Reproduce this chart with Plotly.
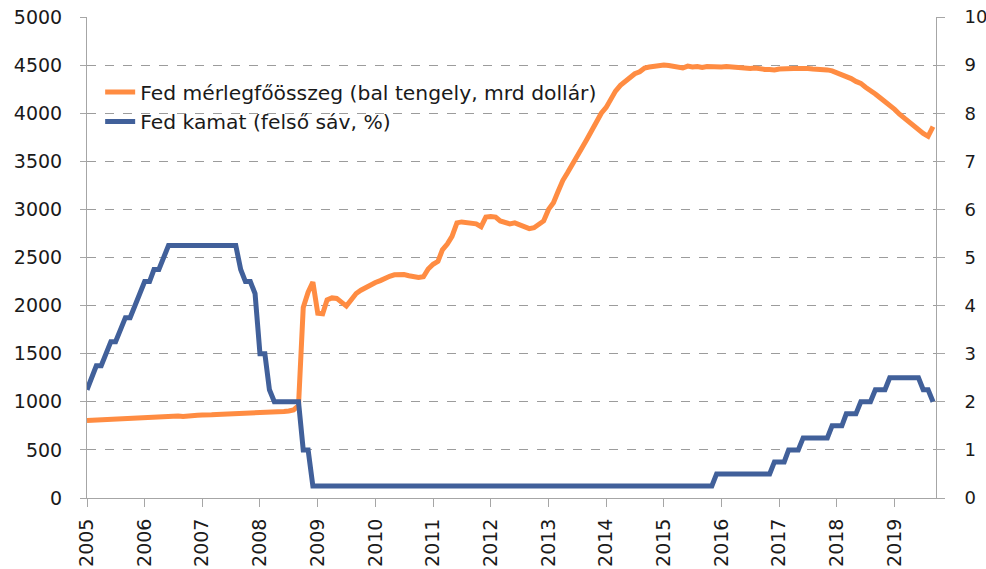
import pandas as pd
import plotly.graph_objects as go

# Monthly observations, Jan 2005 - Sep 2019
start_month = "2005-01-01"
n_months = 177
months = pd.date_range(start_month, periods=n_months, freq="MS")

# Fed total assets (billion USD, left axis)
balance_sheet = [
    # 2005
    805, 808, 812, 815, 818, 815, 822, 825, 828, 830, 835, 832,
    # 2006
    838, 840, 836, 845, 848, 845, 850, 852, 848, 855, 858, 860,
    # 2007
    862, 858, 865, 868, 870, 866, 872, 875, 870, 878, 880, 885,
    # 2008
    888, 885, 892, 890, 895, 900, 905, 915, 960, 1980, 2140, 2245,
    # 2009
    1920, 1915, 2060, 2080, 2075, 2030, 1995, 2060, 2125, 2160, 2190, 2215,
    # 2010
    2240, 2260, 2285, 2305, 2320, 2325, 2322, 2310, 2295, 2292, 2300, 2380,
    # 2011
    2430, 2460, 2580, 2640, 2720, 2860, 2870, 2860, 2860, 2850, 2820, 2920,
    # 2012
    2925, 2920, 2880, 2870, 2850, 2860, 2840, 2820, 2800, 2810, 2840, 2880,
    # 2013
    3000, 3070, 3180, 3300, 3380, 3460, 3560, 3640, 3730, 3820, 3900, 4000,
    # 2014
    4060, 4160, 4230, 4290, 4330, 4370, 4410, 4430, 4470, 4480, 4490, 4500,
    # 2015
    4500, 4495, 4485, 4480, 4470, 4490, 4480, 4485, 4475, 4485, 4480, 4485,
    # 2016
    4480, 4485, 4480, 4475, 4470, 4470, 4465, 4470, 4460, 4455, 4455, 4450,
    # 2017
    4460, 4465, 4470, 4465, 4465, 4470, 4465, 4460, 4460, 4455, 4450, 4440,
    # 2018
    4420, 4400, 4385, 4360, 4330, 4310, 4270, 4240, 4200, 4160, 4120, 4090,
    # 2019
    4040, 3990, 3950, 3910, 3870, 3830, 3790, 3760, 3860,
]

# Fed funds target, upper bound (%, right axis)
fed_rate = [
    # 2005
    2.25, 2.5, 2.75, 2.75, 3.0, 3.25, 3.25, 3.5, 3.75, 3.75, 4.0, 4.25,
    # 2006
    4.5, 4.5, 4.75, 4.75, 5.0, 5.25, 5.25, 5.25, 5.25, 5.25, 5.25, 5.25,
    # 2007
    5.25, 5.25, 5.25, 5.25, 5.25, 5.25, 5.25, 5.25, 4.75, 4.5, 4.5, 4.25,
    # 2008
    3.0, 3.0, 2.25, 2.0, 2.0, 2.0, 2.0, 2.0, 2.0, 1.0, 1.0, 0.25,
    # 2009
    0.25, 0.25, 0.25, 0.25, 0.25, 0.25, 0.25, 0.25, 0.25, 0.25, 0.25, 0.25,
    # 2010
    0.25, 0.25, 0.25, 0.25, 0.25, 0.25, 0.25, 0.25, 0.25, 0.25, 0.25, 0.25,
    # 2011
    0.25, 0.25, 0.25, 0.25, 0.25, 0.25, 0.25, 0.25, 0.25, 0.25, 0.25, 0.25,
    # 2012
    0.25, 0.25, 0.25, 0.25, 0.25, 0.25, 0.25, 0.25, 0.25, 0.25, 0.25, 0.25,
    # 2013
    0.25, 0.25, 0.25, 0.25, 0.25, 0.25, 0.25, 0.25, 0.25, 0.25, 0.25, 0.25,
    # 2014
    0.25, 0.25, 0.25, 0.25, 0.25, 0.25, 0.25, 0.25, 0.25, 0.25, 0.25, 0.25,
    # 2015
    0.25, 0.25, 0.25, 0.25, 0.25, 0.25, 0.25, 0.25, 0.25, 0.25, 0.25, 0.5,
    # 2016
    0.5, 0.5, 0.5, 0.5, 0.5, 0.5, 0.5, 0.5, 0.5, 0.5, 0.5, 0.75,
    # 2017
    0.75, 0.75, 1.0, 1.0, 1.0, 1.25, 1.25, 1.25, 1.25, 1.25, 1.25, 1.5,
    # 2018
    1.5, 1.5, 1.75, 1.75, 1.75, 2.0, 2.0, 2.0, 2.25, 2.25, 2.25, 2.5,
    # 2019
    2.5, 2.5, 2.5, 2.5, 2.5, 2.5, 2.25, 2.25, 2.0,
]

name_balance = "Fed mérlegfőösszeg (bal tengely, mrd dollár)"
name_rate = "Fed kamat (felső sáv, %)"

ORANGE = "#FF8C42"
BLUE = "#41609A"
AXIS_GREY = "#A6A6A6"
GRID_GREY = "#9C9C9C"
TICK_FONT = dict(family="DejaVu Sans", size=19, color="#1a1a1a")
RIGHT_TICK_FONT = dict(family="DejaVu Sans", size=18, color="#1a1a1a")

fig = go.Figure()
fig.add_trace(go.Scatter(
    x=months, y=balance_sheet, name=name_balance, mode="lines",
    line=dict(color=ORANGE, width=5),
))
fig.add_trace(go.Scatter(
    x=months, y=fed_rate, name=name_rate, mode="lines", yaxis="y2",
    line=dict(color=BLUE, width=5),
))

fig.update_layout(
    width=986, height=569,
    margin=dict(l=87, r=50, t=17, b=71, autoexpand=False),
    paper_bgcolor="white", plot_bgcolor="white",
    showlegend=True,
    legend=dict(
        x=0.0155, y=0.885, xanchor="left", yanchor="top",
        bgcolor="rgba(0,0,0,0)",
        font=dict(family="DejaVu Sans", size=20.3, color="#1a1a1a"),
    ),
    xaxis=dict(
        type="date", range=["2005-01-01", "2019-09-20"],
        tick0="2005-01-01", dtick="M12", tickformat="%Y", tickangle=-90,
        showgrid=False, showline=True, linecolor=AXIS_GREY, linewidth=1,
        ticks="outside", ticklen=8, tickcolor=AXIS_GREY, automargin=False,
        tickfont=TICK_FONT, ticklabelstandoff=4, zeroline=False,
        ticklabeloverflow="allow",
    ),
    yaxis=dict(
        range=[0, 5000], dtick=500, showgrid=True, gridcolor=GRID_GREY,
        griddash="dash", gridwidth=1, showline=True, linecolor=AXIS_GREY,
        ticks="outside", ticklen=6, tickcolor=AXIS_GREY, zeroline=False,
        tickfont=TICK_FONT, ticklabelstandoff=14, automargin=False,
        ticklabeloverflow="allow",
    ),
    yaxis2=dict(
        range=[0, 10], dtick=1, overlaying="y", side="right",
        showgrid=False, showline=True, linecolor=AXIS_GREY,
        ticks="outside", ticklen=8, tickcolor=AXIS_GREY, zeroline=False,
        tickfont=RIGHT_TICK_FONT, ticklabelstandoff=16, automargin=False,
        ticklabeloverflow="allow",
    ),
)

fig.write_html(
    "out.html",
    config={"displayModeBar": False},
    post_script="document.body.style.margin='0';document.body.style.overflow='hidden';",
)
